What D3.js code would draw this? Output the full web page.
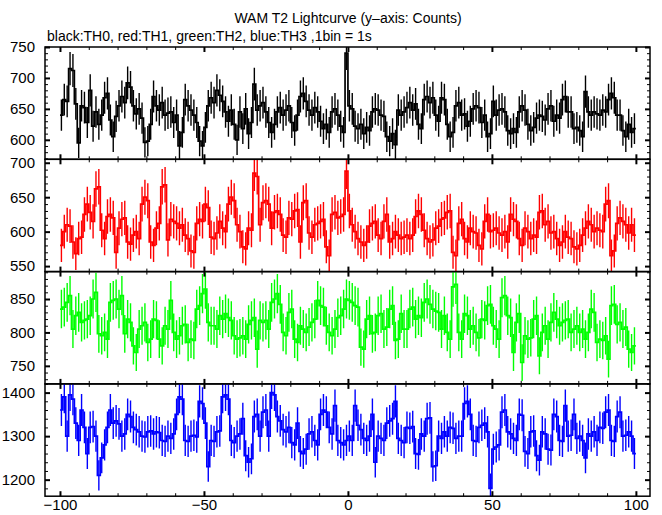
<!DOCTYPE html>
<html><head><meta charset="utf-8">
<script src="https://cdn.jsdelivr.net/npm/d3@7"></script>
<style>
body{margin:0;background:#fff;}
svg{display:block;font-family:"Liberation Sans",Arial,Helvetica,sans-serif;}
</style></head>
<body><svg id="c" width="662" height="515"></svg>
<script>
const title = "WAM T2 Lightcurve (y–axis: Counts)";
const subtitle = "black:TH0, red:TH1, green:TH2, blue:TH3 ,1bin = 1s";
const binStart = -100, binWidth = 1;
const xTicksMajor = [-100, -50, 0, 50, 100];

const th0 = [
640,665,662,715,712,658,595,655,652,628,
680,622,645,625,640,668,675,632,605,638,
655,670,660,692,685,655,642,650,635,596,
598,625,670,655,648,660,640,643,645,628,
640,590,612,665,655,648,640,628,598,590,
620,655,668,660,680,672,662,645,630,648,
625,600,645,618,650,610,628,690,648,655,
660,645,628,612,625,645,652,640,648,655,
628,615,640,670,675,662,648,640,652,645,
630,618,625,612,645,650,640,622,612,740,
655,650,622,618,625,610,620,615,645,650,
648,640,638,605,598,610,592,648,640,645,
652,660,648,658,625,618,665,670,660,668,
640,630,668,665,625,605,612,655,660,640,
642,622,630,650,655,652,628,640,605,610,
662,640,648,650,645,615,610,618,612,645,
655,648,625,615,620,635,640,638,632,650,
655,630,640,635,665,670,645,645,618,620,
615,605,678,645,640,645,642,640,648,645,
665,675,668,640,640,615,605,625,612,618];

const th1 = [
580,600,610,608,585,568,590,592,625,640,
628,615,662,665,602,590,622,625,620,570,
605,618,620,585,582,595,600,590,640,650,
645,585,580,605,612,665,668,588,618,615,
612,605,610,595,590,572,570,612,618,615,
640,635,592,590,598,615,605,600,640,650,
645,610,600,578,575,605,602,685,680,610,
642,645,640,605,628,630,625,595,592,620,
618,630,632,585,642,645,598,592,610,612,
615,618,578,565,625,628,620,622,625,688,
630,610,600,590,585,580,585,608,612,615,
595,590,615,625,585,590,600,595,590,592,
595,590,595,622,630,625,602,590,585,588,
605,608,618,620,628,630,570,565,612,618,
590,585,605,600,598,580,575,615,625,600,
602,605,598,595,600,585,625,618,615,590,
580,605,600,590,595,592,628,630,610,615,
598,600,590,580,585,600,592,590,578,575,
580,595,605,615,610,600,605,602,600,640,
645,565,572,612,620,615,610,598,610,595];

const th2 = [
835,838,845,855,805,825,830,815,818,820,
825,850,860,798,795,800,790,845,848,850,
835,855,798,820,815,780,770,805,810,815,
785,790,820,818,790,780,810,805,848,800,
790,795,810,812,785,790,788,835,840,858,
865,815,810,810,805,825,820,828,822,818,
795,790,792,795,790,812,818,822,775,818,
815,818,805,845,850,858,842,800,795,830,
835,790,785,810,805,800,808,815,820,848,
840,838,810,800,795,805,822,825,835,850,
848,845,840,838,778,775,820,825,798,800,
825,828,805,808,835,840,788,790,828,805,
805,835,838,820,825,822,845,850,842,835,
832,830,805,825,800,790,868,872,800,790,
828,825,805,810,800,792,820,818,840,842,
810,805,790,852,855,825,822,770,815,828,
755,795,790,792,820,825,765,800,810,790,
815,830,820,810,815,818,820,800,805,810,
800,805,790,800,835,830,785,790,788,795,
760,840,842,812,815,805,808,775,770,780];

const th3 = [
1360,1390,1300,1395,1385,1330,1290,1360,1320,1260,
1320,1322,1300,1210,1250,1280,1320,1360,1330,1335,
1328,1300,1305,1350,1345,1320,1315,1310,1300,1298,
1310,1312,1305,1310,1308,1290,1288,1300,1295,1305,
1350,1390,1385,1290,1288,1300,1302,1298,1380,1375,
1330,1230,1290,1288,1310,1312,1390,1395,1385,1290,
1285,1300,1305,1340,1255,1240,1248,1345,1350,1300,
1355,1360,1300,1400,1395,1345,1335,1315,1310,1320,
1285,1280,1330,1265,1260,1270,1305,1310,1290,1280,
1350,1360,1355,1320,1305,1370,1290,1285,1280,1290,
1300,1290,1370,1325,1315,1295,1290,1300,1350,1240,
1300,1295,1290,1330,1335,1340,1380,1295,1290,1285,
1320,1318,1322,1260,1258,1305,1300,1340,1342,1230,
1232,1300,1295,1310,1300,1320,1318,1295,1300,1300,
1375,1380,1350,1290,1288,1320,1325,1330,1310,1180,
1270,1275,1280,1355,1360,1310,1305,1295,1290,1350,
1348,1265,1260,1310,1312,1255,1245,1310,1305,1270,
1268,1350,1345,1290,1288,1370,1300,1302,1350,1295,
1300,1290,1250,1305,1300,1310,1290,1320,1318,1355,
1360,1290,1288,1345,1355,1300,1302,1310,1300,1260];

const series = [th0, th1, th2, th3];
const colors = ["#000000", "#ff0000", "#00ff00", "#0000ff"];
const yDomains = [[568.5, 750], [542, 705], [723, 891], [1162, 1420]];
const yMajor = [[600, 650, 700, 750], [550, 600, 650, 700], [750, 800, 850], [1200, 1300, 1400]];
const yMinorStep = [10, 10, 10, 20];

const svg = d3.select("#c");
const L = 45, R = 650;
const tops = [47, 159.3, 271.6, 383.9], H = 112.3;
const x = d3.scaleLinear().domain([-105.2, 104.9]).range([L, R]);
const xMinor = d3.range(-100, 101, 10).filter(v => v % 50 !== 0);

svg.append("text").attr("x", 348).attr("y", 23).attr("text-anchor", "middle")
  .attr("font-size", 14).text(title);
svg.append("text").attr("x", 47).attr("y", 41).attr("font-size", 14).text(subtitle);

series.forEach((vals, k) => {
  const top = tops[k], bot = top + H;
  const y = d3.scaleLinear().domain(yDomains[k]).range([bot, top]);
  const g = svg.append("g");
  const clipId = "clip" + k;
  svg.append("clipPath").attr("id", clipId).append("rect")
    .attr("x", L).attr("y", top).attr("width", R - L).attr("height", H);
  const pg = g.append("g").attr("clip-path", `url(#${clipId})`);

  // error bars
  pg.selectAll("line.err").data(vals).join("line")
    .attr("x1", (d, i) => x(binStart + (i + 0.5) * binWidth))
    .attr("x2", (d, i) => x(binStart + (i + 0.5) * binWidth))
    .attr("y1", d => y(d - Math.sqrt(d)))
    .attr("y2", d => y(d + Math.sqrt(d)))
    .attr("stroke", colors[k]).attr("stroke-width", 1.4);

  // step histogram
  const pts = vals.map((d, i) => [binStart + i * binWidth, d]);
  pts.push([binStart + vals.length * binWidth, vals[vals.length - 1]]);
  const line = d3.line().x(d => x(d[0])).y(d => y(d[1])).curve(d3.curveStepAfter);
  pg.append("path").attr("d", line(pts)).attr("fill", "none")
    .attr("stroke", colors[k]).attr("stroke-width", 1.7);

  // y axes (left & right), inward ticks
  const yMinorVals = d3.range(Math.ceil(yDomains[k][0] / yMinorStep[k]) * yMinorStep[k], yDomains[k][1] + 0.01, yMinorStep[k])
    .filter(v => !yMajor[k].includes(v));
  const axes = [
    [d3.axisLeft(y).tickValues(yMajor[k]).tickSize(-5).tickPadding(10).tickFormat(d3.format("d")), L, 2],
    [d3.axisLeft(y).tickValues(yMinorVals).tickSize(-3).tickFormat(""), L, 1],
    [d3.axisRight(y).tickValues(yMajor[k]).tickSize(-5).tickFormat(""), R, 2],
    [d3.axisRight(y).tickValues(yMinorVals).tickSize(-3).tickFormat(""), R, 1]
  ];
  axes.forEach(([ax, xpos, sw]) => {
    const a = g.append("g").attr("transform", `translate(${xpos},0)`).call(ax);
    a.select(".domain").remove();
    a.selectAll(".tick line").attr("stroke-width", sw);
    a.selectAll("text").attr("font-size", 15).attr("fill", "#000")
      .attr("font-family", '"Liberation Sans",Arial,sans-serif');
  });

  // x axes top & bottom, inward
  const isLast = k === series.length - 1;
  const xaxes = [
    [d3.axisBottom(x).tickValues(xTicksMajor).tickSize(-5).tickPadding(3).tickFormat(isLast ? d3.format("d") : ""), bot, 2],
    [d3.axisBottom(x).tickValues(xMinor).tickSize(-3).tickFormat(""), bot, 1],
    [d3.axisTop(x).tickValues(xTicksMajor).tickSize(-5).tickFormat(""), top, 2],
    [d3.axisTop(x).tickValues(xMinor).tickSize(-3).tickFormat(""), top, 1]
  ];
  xaxes.forEach(([ax, ypos, sw]) => {
    const a = g.append("g").attr("transform", `translate(0,${ypos})`).call(ax);
    a.select(".domain").remove();
    a.selectAll(".tick line").attr("stroke-width", sw);
    a.selectAll("text").attr("font-size", 15).attr("fill", "#000")
      .attr("font-family", '"Liberation Sans",Arial,sans-serif');
  });

  // frame
  g.append("rect").attr("x", L).attr("y", top).attr("width", R - L).attr("height", H)
    .attr("fill", "none").attr("stroke", "#000").attr("stroke-width", 1.5);
});
</script></body></html>
